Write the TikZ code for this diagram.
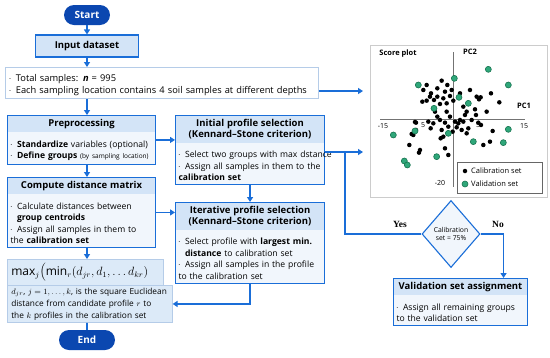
\documentclass[tikz,border=0pt]{standalone}
\usepackage{fontspec}
\setmainfont{Open Sans}
\newfontfamily\yesnofont{Liberation Serif}
\usetikzlibrary{arrows.meta,positioning,shapes.geometric,shapes.multipart,shapes.misc}

\definecolor{flowblue}{HTML}{1A6ED8}
\definecolor{darkblue}{HTML}{0B47B0}
\definecolor{headfill}{HTML}{D3E4F7}
\definecolor{bodyfill}{HTML}{F1F6FC}
\definecolor{maxfill}{HTML}{DCEAF8}
\definecolor{paleedge}{HTML}{B5CCE8}
\definecolor{valgreen}{HTML}{2FA77A}
\definecolor{valedge}{HTML}{17734F}

% bullet with hanging indent
\newcommand\bitem{\par\noindent\hangindent=6.5pt\hangafter=1\makebox[6.5pt][l]{\raisebox{1pt}{\fontsize{4}{4}\selectfont\textbullet}}}
\newcommand\headtxt[1]{{\centering\fontsize{9.5}{11.5}\selectfont\bfseries #1\par}}

\begin{document}
\begin{tikzpicture}[
    x=1pt,y=-1pt,
    font=\fontsize{8.6}{11.5}\selectfont,
    pill/.style={rounded rectangle,fill=darkblue,text=white,font=\fontsize{10}{11}\selectfont\bfseries,minimum height=20pt,minimum width=50pt,inner sep=2pt},
    inbox/.style={draw=flowblue,line width=1.1pt,fill=headfill,font=\fontsize{9.5}{11}\selectfont\bfseries,minimum width=103pt,minimum height=22pt},
    databox/.style={draw=paleedge,line width=0.8pt,fill=white,text width=305pt,align=left,inner xsep=4pt,inner ysep=2.5pt,font=\fontsize{9.3}{12}\selectfont},
    twobox/.style={rectangle split,rectangle split parts=2,rectangle split draw splits=false,draw=flowblue,line width=1.1pt,rectangle split part fill={headfill,bodyfill},text width=#1,align=left,inner xsep=3pt,inner ysep=3pt},
    maxbox/.style={draw=paleedge,line width=0.6pt,fill=maxfill,align=left,inner xsep=4pt},
    decision/.style={diamond,draw=flowblue,line width=1.1pt,fill=bodyfill,minimum width=58pt,minimum height=67pt,inner sep=1pt,align=center,font=\fontsize{6.8}{8.5}\selectfont},
    yesno/.style={font=\yesnofont\fontsize{9.5}{10}\selectfont\bfseries},
    plotlbl/.style={font=\fontsize{7}{8}\selectfont,inner sep=1pt},
    caldot/.style={circle,fill=black,inner sep=0pt,minimum size=4.5pt},
    valdot/.style={circle,fill=valgreen,draw=valedge,line width=0.6pt,inner sep=0pt,minimum size=6pt},
    arr/.style={-{Triangle[length=5pt,width=6pt]},line width=1.6pt,draw=flowblue},
    line/.style={line width=1.6pt,draw=flowblue}
]
\fill[white] (0,0) rectangle (550,357);
\useasboundingbox (0,0) rectangle (550,357);

% left column
\node[pill] (start) at (87,15) {Start};
\node[inbox] (input) at (87,46) {Input dataset};
\node[databox,anchor=north west] (data) at (5,67) {\bitem Total samples: \textbf{\textit{n}} = 995
  \bitem Each sampling location contains 4 soil samples at different depths};
\node[twobox=142pt,anchor=north west] (pre) at (7,115) {\headtxt{Preprocessing}
  \nodepart{two}\bitem \textbf{Standardize} variables (optional)
  \bitem \mbox{\textbf{Define groups} {\fontsize{6.5}{8}\selectfont(by sampling location)}}};
\node[twobox=142pt,anchor=north west] (comp) at (7,177) {\headtxt{Compute distance matrix}
  \nodepart{two}\bitem Calculate distances between\newline\textbf{group centroids}
  \bitem Assign all samples in them to\newline the \textbf{calibration set}};
\node[maxbox,anchor=north west,text width=148pt,minimum height=26pt,font=\fontsize{12}{14}\selectfont] (maxf) at (7,259)
  {$\max_{j}\Bigl(\min_{r}\bigl(d_{jr}, d_1, \ldots d_{kr}\bigr)$};
\node[maxbox,anchor=north west,text width=157pt,inner ysep=2.5pt,font=\fontsize{8.3}{12}\selectfont] (desc) at (7,285)
  {\mbox{$d_{jr}$, $j=1,\ldots, k$, is the square Euclidean}\newline
   \mbox{distance from candidate profile $r$ to}\newline
   \mbox{the $k$ profiles in the calibration set}};
\node[pill,minimum width=60pt] (end) at (87,340) {End};

% middle column
\node[twobox=143pt,anchor=north west] (init) at (175,115) {\headtxt{Initial profile selection\\(Kennard--Stone criterion)}
  \nodepart{two}\bitem \mbox{Select two groups with max dstance}
  \bitem Assign all samples in them to the\newline\textbf{calibration set}};
\node[twobox=143pt,anchor=north west] (iter) at (175,202) {\headtxt{Iterative profile selection\\(Kennard--Stone criterion)}
  \nodepart{two}\bitem Select profile with \textbf{largest min.}\newline\textbf{distance} to calibration set
  \bitem Assign all samples in the profile\newline to the calibration set};

% score plot
\node[draw=black!20,line width=0.8pt,fill=white,anchor=north west,minimum width=177pt,minimum height=152pt] (plot) at (370,45) {};
\draw[black!55,line width=0.6pt] (453,52) -- (453,187);
\draw[black!55,line width=0.6pt] (380,119) -- (525,119);
\node[plotlbl,font=\fontsize{7.5}{8}\selectfont\bfseries] (title) at (398,54) {Score plot};
\node[plotlbl,font=\fontsize{7.5}{8}\selectfont\bfseries] (pctwo) at (470,52) {PC2};
\node[plotlbl,font=\fontsize{7.5}{8}\selectfont\bfseries] (pcone) at (524,106) {PC1};
\node[plotlbl] (tka) at (383,126) {-15};
\node[plotlbl] (tkb) at (423,125) {5};
\node[plotlbl] (tkc) at (478,125) {5};
\node[plotlbl] (tkd) at (524,126) {15};
\node[plotlbl] (tke) at (440,183) {-20};
\begin{scope}[shift={(360,40)},x=0.3333pt,y=-0.3333pt]
\foreach \p in {(200,135),(190,150),(213,160),(245,122),(262,135),(232,145),(255,155),(275,150),(210,170),(232,170),(250,175),(270,168),(187,185),(200,182),(222,180),(240,192),(260,190),(280,182),(350,170),(357,178),(362,172),(393,160),(418,187),(330,150),(300,160),(310,200),(320,215),(345,208),(348,225),(315,225),(260,215),(270,230),(240,240),(255,248),(285,245),(295,250),(310,245),(335,240),(355,248),(363,255),(168,248),(165,246),(205,245),(168,270),(160,285),(155,282),(245,270),(250,290),(242,295),(278,275),(290,262),(305,270),(320,280),(325,265),(398,273),(370,315),(390,305),(148,315),(180,330),(177,338),(255,325),(265,345),(232,230),(225,215),(380,215),(300,240),(265,260),(220,250),(212,265)}
  \node[caldot] at \p {};
\foreach \p in {(175,135),(283,115),(385,88),(445,135),(297,172),(325,190),(222,205),(100,285),(165,273),(265,280),(340,305),(430,308),(445,268),(230,350),(133,363),(142,375)}
  \node[valdot] at \p {};
\end{scope}
\node[draw=black!60,line width=0.6pt,fill=white,anchor=north west,minimum width=85pt,minimum height=31pt] (legend) at (457,162) {};
\node[caldot] (calkey) at (465,171) {};
\node[plotlbl,anchor=west,font=\fontsize{7.5}{8}\selectfont] (callbl) at (470,171) {Calibration set};
\node[valdot] (valkey) at (465,184) {};
\node[plotlbl,anchor=west,font=\fontsize{7.5}{8}\selectfont] (vallbl) at (470,184) {Validation set};

% decision and validation
\node[decision] (dia) at (451,234) {Calibration\\set = 75\%};
\node[yesno] (yeslbl) at (400,224) {Yes};
\node[yesno] (nolbl) at (498,224) {No};
\node[twobox=128pt,anchor=north west] (valid) at (393,278) {\headtxt{Validation set assignment}
  \nodepart{two}\bitem Assign all remaining groups\newline to the validation set};
\coordinate (yesjoin) at (345,152);

% connectors
\draw[arr] (start) -- (input);
\draw[arr] (input) -- (input |- data.north);
\draw[arr] (data.south -| start) -- (pre.north -| start);
\draw[arr] (pre.south -| start) -- (comp.north -| start);
\draw[arr] (comp.south -| start) -- (maxf.north -| start);
\draw[line] (desc.south -| start) -- (end);
\draw[arr] (pre.east) -- (pre.east -| init.west);
\draw[arr] (comp.east) -- (comp.east -| iter.west);
\draw[arr] (init) -- (iter);
\draw[arr] (iter.south) |- (desc.east);
\draw[arr,shorten >=7pt] ([yshift=-8pt]data.east) -- ([yshift=-8pt]data.east -| plot.west);
\draw[arr,shorten >=7pt] (init.east |- yesjoin) -- (yesjoin -| plot.west);
\draw[line] (dia.west) -| (yesjoin);
\draw[arr] (dia.east) -| ([xshift=43pt]valid.north);
\end{tikzpicture}
\end{document}
